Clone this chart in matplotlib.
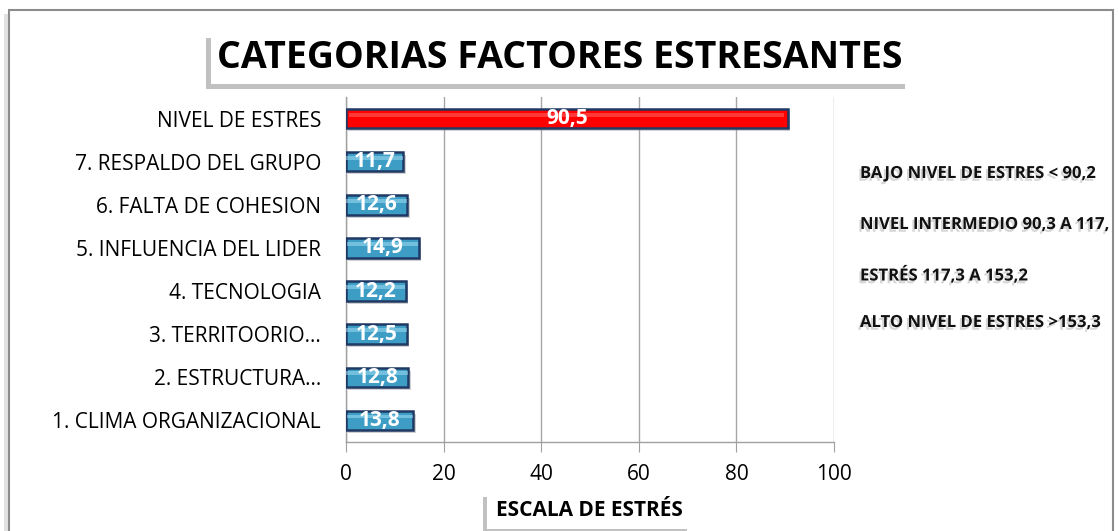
import matplotlib
matplotlib.use("Agg")
import matplotlib.pyplot as plt
import matplotlib.patheffects as pe
from matplotlib.patches import Rectangle
import numpy as np

categories = ["1. CLIMA ORGANIZACIONAL", "2. ESTRUCTURA...", "3. TERRITOORIO...",
              "4. TECNOLOGIA", "5. INFLUENCIA DEL LIDER", "6. FALTA DE COHESION",
              "7. RESPALDO DEL GRUPO", "NIVEL DE ESTRES"]
values = [13.8, 12.8, 12.5, 12.2, 14.9, 12.6, 11.7, 90.5]
value_labels = ["13,8", "12,8", "12,5", "12,2", "14,9", "12,6", "11,7", "90,5"]
x_ticks = [0, 20, 40, 60, 80, 100]
legend_lines = ["BAJO NIVEL DE ESTRES < 90,2", "NIVEL INTERMEDIO 90,3 A 117,",
                "ESTRÉS 117,3 A 153,2", "ALTO NIVEL DE ESTRES >153,3"]
title = "CATEGORIAS FACTORES ESTRESANTES"
xlabel = "ESCALA DE ESTRÉS"

plt.rcParams['font.family'] = ['Open Sans', 'DejaVu Sans']

W, H = 1119, 531
fig = plt.figure(figsize=(W / 100, H / 100), dpi=100)

# outer frame with shadow
fig.add_artist(Rectangle((4 / W, -0.05), (1110 - 4) / W, (H - 14) / H + 0.05,
                         transform=fig.transFigure, facecolor='#d0d0d0',
                         edgecolor='none', alpha=0.6, zorder=-3))
frame = Rectangle((9 / W, -0.05), (1113 - 9) / W, (H - 10) / H + 0.05,
                  transform=fig.transFigure, facecolor='white',
                  edgecolor='#8c8c8c', lw=1.5, zorder=-2)
fig.add_artist(frame)

ax = fig.add_axes([346 / W, 1 - 442 / H, (834 - 346) / W, (442 - 97) / H])
ax.set_facecolor('none')
y = np.arange(len(categories))
colors = ['#3d9dc4'] * (len(values) - 1) + ['#ff0000']
h = 0.45
# shadow
ax.barh(y - 0.07, values, height=h, left=0.5, color='#9a9a9a', alpha=0.45, zorder=2, lw=0)
bars = ax.barh(y, values, height=h, color=colors, edgecolor='#1f3864', lw=1.8, zorder=3)
# gradient highlight
for yi, v, c in zip(y, values, colors):
    light = '#a8e4f7' if c != '#ff0000' else '#ff7070'
    ax.barh(yi + h * 0.2, v * 0.985, left=v * 0.0075, height=h * 0.2, color=light,
            alpha=0.5, zorder=3.5, lw=0)
for yi, v, lab in zip(y, values, value_labels):
    ax.text(v / 2, yi, lab, ha='center', va='center', color='white',
            fontsize=15, fontweight='bold', zorder=5)

ax.set_xlim(0, 100)
ax.set_ylim(-0.5, len(categories) - 0.5)
ax.set_xticks(x_ticks)
ax.set_xticklabels([str(t) for t in x_ticks], fontsize=15)
ax.set_yticks(y)
ax.set_yticklabels(categories, fontsize=15)
ax.tick_params(axis='y', length=0, pad=18)
ax.tick_params(axis='x', length=7, color='#a0a0a0', pad=9, direction='out')
ax.grid(axis='x', color='#a6a6a6', lw=1, zorder=1)
for s in ['top', 'right']:
    ax.spines[s].set_visible(False)
for s in ['left', 'bottom']:
    ax.spines[s].set_color('#a0a0a0')
    ax.spines[s].set_linewidth(1)

shadow = [pe.withSimplePatchShadow(offset=(-3, -4), shadow_rgbFace='#777777', alpha=0.45)]
# title
fig.text(560 / W, 1 - 58 / H, title, ha='center', va='center', fontsize=27,
         fontweight='bold', zorder=10,
         bbox=dict(boxstyle='square,pad=0.18', fc='white', ec='none',
                   path_effects=shadow))
# x label
fig.text(589 / W, 1 - 510 / H, xlabel, ha='center', va='center', fontsize=15,
         fontweight='bold', zorder=10,
         bbox=dict(boxstyle='square,pad=0.4', fc='white', ec='none',
                   path_effects=shadow))

ys = [173, 224, 275, 322]
for t, yy in zip(legend_lines, ys):
    txt = fig.text(860 / W, 1 - yy / H, t, ha='left', va='center', fontsize=12,
                   fontweight='bold', color='#111111', zorder=10,
                   path_effects=[pe.withSimplePatchShadow(offset=(-1.5, -2), shadow_rgbFace='#999999', alpha=0.4)])
    txt.set_clip_path(frame)

fig.savefig("out.png", dpi=100)
